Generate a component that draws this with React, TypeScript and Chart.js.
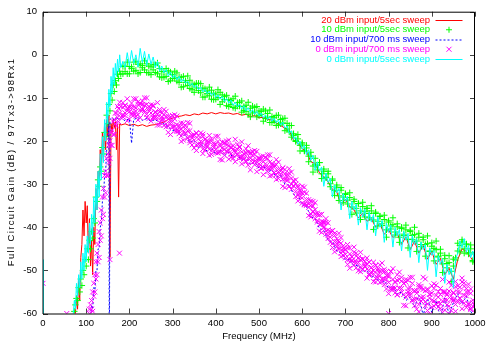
import { useEffect, useRef } from "react";
import { Chart, registerables } from "chart.js";

Chart.register(...registerables);

const FONT = "'Liberation Sans', Arial, Helvetica, sans-serif";

// ---- axis ticks / titles ----
const xTickValues = [0, 100, 200, 300, 400, 500, 600, 700, 800, 900, 1000];
const yTickValues = [10, 0, -10, -20, -30, -40, -50, -60];
const xTitle = "Frequency (MHz)";
const yTitle = "Full Circuit Gain (dB) / 97Tx3->98Rx1";

// ---- series names / colours ----
const seriesNames = [
  "20 dBm input/5sec sweep",
  "10 dBm input/5sec sweep",
  "10 dBm input/700 ms sweep",
  "0 dBm input/700 ms sweep",
  "0 dBm input/5sec sweep",
];
const seriesColors = ["#ff0000", "#00ff00", "#0000ff", "#ff00ff", "#00ffff"];

// ---- shared frequency grids (MHz) ----
const riseFreq = [
  70, 72.5, 75, 77.5, 80, 82.5, 85, 87.5, 90, 92.5,
  95, 97.5, 100, 102.5, 105, 107.5, 110, 112.5, 115, 117.5,
  120, 122.5, 125, 127.5, 130, 132.5, 135, 137.5, 140, 142.5,
  145, 147.5, 150, 152.5, 155, 157.5, 160, 162.5, 165, 167.5,
  170, 172.5, 175, 177.5, 180,
];
const sweepFreq = [
  185, 190, 195, 200, 205, 210, 215, 220, 225, 230,
  235, 240, 245, 250, 255, 260, 265, 270, 275, 280,
  285, 290, 295, 300, 305, 310, 315, 320, 325, 330,
  335, 340, 345, 350, 355, 360, 365, 370, 375, 380,
  385, 390, 395, 400, 405, 410, 415, 420, 425, 430,
  435, 440, 445, 450, 455, 460, 465, 470, 475, 480,
  485, 490, 495, 500, 505, 510, 515, 520, 525, 530,
  535, 540, 545, 550, 555, 560, 565, 570, 575, 580,
  585, 590, 595, 600, 605, 610, 615, 620, 625, 630,
  635, 640, 645, 650, 655, 660, 665, 670, 675, 680,
  685, 690, 695, 700, 705, 710, 715, 720, 725, 730,
  735, 740, 745, 750, 755, 760, 765, 770, 775, 780,
  785, 790, 795, 800, 805, 810, 815, 820, 825, 830,
  835, 840, 845, 850, 855, 860, 865, 870, 875, 880,
  885, 890, 895, 900, 905, 910, 915, 920, 925, 930,
  935, 940, 945, 950, 955, 960, 965, 970, 975, 980,
  985, 990, 995, 1000,
];

// ---- 10 dBm input / 5 sec sweep (green +) ----
const greenRise = [
  -61, -59.5, -58, -56.5, -57, -54, -55, -52, -53.5, -50,
  -51, -47.5, -49, -45, -47.5, -43, -45, -41, -42.5, -38,
  -39, -33, -34, -29, -30.5, -26, -27, -21.5, -23, -18,
  -19, -14, -16, -11.5, -13, -9, -10.5, -7, -8.5, -6,
  -7, -4.5, -5.5, -3.8, -4.5,
];
const greenSweep = [
  -2.7, -3.9, -1.7, -4.4, -2.8, -3.8, -1.5, -4.4, -2.1, -3.0,
  -1.4, -4.1, -2.6, -4.6, -2.3, -4.1, -1.9, -5.1, -3.9, -5.2,
  -3.2, -6.2, -4.0, -5.5, -3.8, -6.1, -5.2, -7.5, -5.0, -6.4,
  -4.9, -7.8, -6.8, -8.7, -6.6, -8.3, -6.7, -9.8, -7.9, -9.0,
  -7.5, -10.3, -8.9, -10.3, -8.1, -11.5, -9.3, -10.4, -9.4, -12.0,
  -10.6, -12.2, -9.6, -11.9, -11.0, -13.3, -12.0, -13.1, -11.0, -14.4,
  -11.9, -13.3, -12.0, -14.1, -13.1, -15.4, -13.0, -14.6, -12.8, -15.7,
  -14.6, -16.4, -14.0, -16.0, -14.8, -17.6, -15.9, -17.9, -16.4, -18.7,
  -19.9, -19.5, -21.0, -20.4, -22.3, -21.6, -23.5, -22.6, -25.8, -24.0,
  -25.6, -25.0, -27.6, -26.5, -28.4, -27.6, -29.9, -28.8, -31.5, -30.2,
  -33.8, -31.4, -33.0, -32.2, -34.6, -33.1, -37.0, -34.0, -35.6, -34.5,
  -38.2, -35.2, -36.4, -35.6, -37.8, -36.2, -40.5, -36.8, -38.6, -37.4,
  -39.6, -38.2, -42.3, -38.8, -40.4, -39.4, -41.8, -39.9, -43.5, -40.3,
  -41.9, -40.6, -44.8, -41.0, -42.8, -41.7, -45.6, -42.3, -44.0, -42.9,
  -46.7, -43.8, -45.6, -44.4, -47.8, -45.2, -46.9, -46.0, -50.5, -47.3,
  -49.4, -48.2, -52.6, -49.0, -47.6, -45.5, -44.2, -43.4, -45.0, -43.9,
  -46.2, -45.0, -48.0, -46.2,
];
const greenSweepB = [
  -4.4, -2.6, -4.4, -2.7, -3.2, -1.7, -3.6, -2.2, -4.1, -2.5,
  -3.5, -2.1, -4.2, -2.8, -3.5, -2.3, -4.4, -3.2, -5.3, -3.9,
  -5.0, -3.7, -5.9, -4.6, -5.4, -4.2, -6.4, -5.2, -7.4, -6.0,
  -7.1, -5.9, -8.1, -6.9, -7.7, -6.6, -8.8, -7.7, -9.8, -8.4,
  -9.5, -8.2, -10.4, -9.1, -9.9, -8.7, -10.9, -9.7, -11.8, -10.4,
  -11.5, -10.2, -12.4, -11.1, -11.9, -10.7, -12.9, -11.7, -13.8, -12.4,
  -13.5, -12.2, -14.4, -13.0, -13.8, -12.6, -14.8, -13.6, -15.7, -14.3,
  -15.4, -14.1, -16.3, -15.0, -15.8, -14.7, -17.2, -16.4, -19.1, -18.3,
  -20.1, -18.5, -22.3, -20.7, -22.3, -21.0, -24.8, -23.5, -27.2, -25.5,
  -26.7, -25.0, -28.7, -27.0, -28.5, -27.0, -30.6, -29.1, -32.6, -30.7,
  -32.7, -30.8, -34.3, -32.4, -33.7, -32.0, -35.3, -33.5, -36.7, -34.5,
  -36.2, -34.2, -37.6, -35.6, -36.8, -35.0, -38.3, -36.5, -39.7, -37.5,
  -39.2, -37.2, -40.6, -38.5, -39.7, -37.8, -41.1, -39.2, -42.3, -40.0,
  -41.6, -39.5, -42.8, -40.7, -41.9, -40.0, -43.2, -41.4, -44.5, -42.3,
  -44.0, -42.0, -45.5, -43.6, -44.9, -43.2, -46.7, -45.1, -48.5, -46.5,
  -48.4, -46.6, -50.2, -47.4, -47.1, -43.7, -45.7, -42.9, -46.0, -43.9,
  -45.9, -44.1, -47.7, -45.9,
];

// ---- 0 dBm input / 5 sec sweep (cyan line) ----
const cyanLeadFreq = [0, 0.3, 60];
const cyanLead = [-47.5, -70, -70];
const cyanRise = [
  -60, -57, -59, -53, -56, -51, -54, -48, -52, -46,
  -50, -44, -48, -42, -46, -39, -44, -37, -42, -33,
  -39, -30, -36, -27, -33, -23, -29, -19, -25, -15,
  -20, -11, -16, -8, -12, -5, -9, -3, -7, -2,
  -5, -1, -4, 0, -3,
];
const cyanSweep = [
  -1.5, -3.0, 0.5, -2.5, 1.0, -2.0, 0.0, -2.8, 1.5, -1.8,
  0.8, -2.5, 0.2, -2.2, -0.5, -3.0, -1.5, -3.8, -2.6, -4.2,
  -3.4, -4.9, -4.0, -5.4, -4.6, -5.8, -5.0, -6.3, -5.6, -6.6,
  -6.1, -7.2, -6.6, -7.6, -7.0, -8.1, -7.5, -8.6, -8.0, -9.0,
  -8.4, -9.4, -8.8, -9.9, -9.3, -10.3, -9.7, -10.8, -10.1, -11.2,
  -10.5, -11.7, -11.0, -12.1, -11.4, -12.6, -11.8, -13.0, -12.3, -13.4,
  -12.7, -13.8, -13.1, -14.2, -13.5, -14.6, -13.9, -15.0, -14.3, -15.4,
  -14.7, -15.8, -15.1, -16.3, -15.6, -17.0, -16.5, -18.2, -17.6, -19.6,
  -19.0, -20.8, -20.0, -21.9, -21.0, -23.2, -22.0, -24.5, -23.3, -26.8,
  -24.8, -27.0, -26.0, -30.5, -27.4, -29.6, -28.6, -33.0, -30.2, -32.0,
  -31.0, -36.0, -32.2, -34.0, -32.8, -38.0, -34.0, -36.0, -34.6, -39.5,
  -35.5, -37.6, -35.8, -40.6, -36.4, -38.8, -37.0, -42.0, -37.6, -40.0,
  -38.4, -43.5, -39.0, -41.2, -39.5, -44.6, -40.0, -42.0, -40.5, -45.5,
  -40.9, -43.0, -41.4, -47.0, -41.9, -44.0, -42.6, -48.2, -43.4, -45.2,
  -44.0, -50.0, -44.8, -46.5, -45.4, -51.5, -46.6, -48.5, -47.3, -53.0,
  -48.6, -51.0, -49.5, -54.0, -47.5, -46.0, -43.2, -44.8, -42.6, -45.8,
  -44.2, -47.0, -45.5, -49.0,
];

// ---- 0 dBm input / 700 ms sweep (magenta x) ----
const magentaRise = [
  null, null, null, null, null, null, null, null, null, null,
  null, null, null, null, -61, -59, -61, -57, -59.5, -53,
  -55, -48, -51, -44, -47, -39, -42, -33, -37, -28,
  -32, -24, -28, -21, -24, -18, -21, -15.5, -18.5, -13.5,
  -16.5, -12, -15.5, -11, -14.5,
];
const magentaRiseB = [
  null, null, null, null, null, null, null, null, null, null,
  null, null, null, null, null, -60, -58, -59, -55, -56,
  -51, -52, -46, -48, -41, -43, -36, -38, -31, -33,
  -27, -28, -23, -25, -20, -21, -17.5, -18.5, -15, -16,
  -13.5, -14.5, -12.5, -13.5, -12,
];
const magentaSweepA = [
  -11.1, -13.5, -10.2, -14.9, -12.2, -14.0, -10.2, -15.1, -11.3, -12.7,
  -10.0, -14.5, -12.0, -15.4, -11.7, -14.6, -11.1, -16.3, -14.4, -16.4,
  -13.1, -18.0, -14.4, -16.8, -13.9, -17.8, -16.4, -20.1, -15.9, -18.2,
  -15.7, -20.4, -18.7, -21.6, -18.1, -20.8, -18.1, -22.9, -19.6, -21.3,
  -18.7, -23.1, -20.6, -22.7, -18.9, -24.3, -20.3, -21.9, -20.0, -24.2,
  -21.6, -24.0, -19.6, -23.2, -21.5, -25.3, -22.9, -24.7, -21.1, -26.7,
  -22.4, -24.7, -22.4, -25.9, -24.1, -27.8, -23.8, -26.2, -23.2, -28.0,
  -26.1, -28.9, -24.9, -28.2, -26.3, -30.8, -27.7, -30.5, -27.2, -30.4,
  -29.0, -33.9, -31.4, -34.4, -30.7, -34.8, -33.6, -37.6, -34.0, -38.0,
  -37.1, -40.9, -37.0, -39.9, -38.0, -42.6, -40.9, -44.7, -41.4, -44.5,
  -41.4, -46.8, -44.3, -47.1, -44.0, -49.5, -46.8, -48.0, -46.0, -50.1,
  -45.8, -49.7, -48.0, -51.8, -48.1, -50.3, -48.1, -52.7, -50.1, -52.8,
  -48.3, -52.0, -50.3, -55.4, -50.2, -54.4, -52.6, -55.7, -50.4, -55.1,
  -53.0, -58.2, -52.3, -55.2, -51.6, -58.2, -54.7, -59.6, -53.7, -56.7,
  -52.0, -59.3, -55.5, -58.5, -53.1, -60.8, -54.9, -57.7, -52.1, -59.2,
  -55.7, -60.1, -53.5, -56.7, -52.6, -57.4, -53.9, -58.9, -52.9, -58.6,
  -53.2, -59.1, -56.9, -62.8,
];
const magentaSweepB = [
  -14.4, -11.7, -15.3, -12.2, -13.5, -10.2, -14.2, -11.5, -14.6, -10.7,
  -12.9, -10.0, -14.8, -11.6, -14.4, -13.4, -16.3, -13.2, -15.2, -12.7,
  -16.7, -14.8, -18.5, -14.1, -16.6, -14.2, -18.3, -17.2, -19.8, -16.5,
  -19.2, -15.9, -20.9, -18.6, -22.2, -18.8, -20.7, -18.4, -22.1, -20.4,
  -23.3, -19.5, -21.5, -18.9, -22.7, -20.8, -24.4, -20.5, -22.5, -19.8,
  -23.8, -21.9, -24.8, -20.7, -23.6, -20.2, -24.2, -22.8, -25.6, -22.6,
  -24.4, -22.2, -27.1, -23.9, -26.4, -23.5, -26.1, -23.2, -28.1, -25.5,
  -27.4, -24.3, -28.7, -27.0, -30.5, -26.6, -28.9, -26.4, -31.2, -29.2,
  -32.9, -30.7, -32.9, -30.5, -34.8, -32.1, -37.3, -35.0, -36.3, -34.3,
  -38.8, -37.1, -41.2, -38.8, -40.9, -39.0, -43.5, -40.8, -45.7, -43.3,
  -44.7, -42.4, -46.5, -45.2, -48.6, -44.8, -47.8, -44.6, -49.4, -47.1,
  -50.3, -47.3, -49.0, -47.1, -51.1, -49.3, -52.6, -48.8, -51.7, -48.7,
  -52.0, -50.3, -54.3, -51.5, -54.0, -49.6, -55.2, -52.3, -54.1, -51.6,
  -58.1, -52.1, -55.6, -51.6, -56.8, -54.8, -59.0, -53.8, -57.1, -51.6,
  -58.2, -54.6, -60.2, -53.6, -57.1, -53.4, -58.5, -55.6, -59.8, -54.9,
  -56.9, -52.7, -59.3, -55.1, -59.5, -53.6, -56.5, -51.8, -57.6, -55.0,
  -57.9, -54.3, -61.0, -58.2,
];
const magentaSweepC = [
  -12.2, -14.1, -12.5, -13.2, -11.2, -13.4, -12.3, -13.9, -11.4, -12.6,
  -11.7, -13.8, -12.5, -13.5, -11.9, -14.5, -13.8, -15.7, -13.5, -15.0,
  -14.3, -16.6, -15.4, -16.5, -14.9, -17.5, -16.9, -18.8, -16.7, -18.2,
  -17.6, -19.9, -18.7, -19.8, -18.2, -20.8, -20.1, -21.9, -19.6, -21.0,
  -20.2, -22.3, -21.0, -21.9, -20.1, -22.5, -21.6, -23.3, -20.9, -22.2,
  -21.3, -23.4, -22.1, -23.0, -21.3, -23.8, -23.0, -24.8, -22.6, -24.0,
  -23.3, -25.5, -24.3, -25.3, -23.6, -26.1, -25.3, -27.1, -24.9, -26.3,
  -25.6, -27.8, -26.6, -27.7, -26.2, -28.9, -28.4, -30.5, -28.6, -30.4,
  -30.0, -32.6, -31.7, -33.2, -31.9, -34.9, -34.6, -36.9, -35.1, -37.0,
  -36.7, -39.4, -38.6, -40.1, -38.9, -41.9, -41.5, -43.8, -41.9, -43.8,
  -43.4, -46.0, -45.0, -46.3, -44.8, -47.5, -46.9, -48.8, -46.7, -48.2,
  -47.5, -49.8, -48.6, -49.7, -48.1, -50.7, -50.0, -51.9, -49.7, -51.2,
  -50.0, -53.3, -51.2, -52.8, -50.3, -54.1, -52.8, -55.6, -52.1, -54.2,
  -53.0, -56.2, -54.2, -55.7, -53.0, -56.7, -55.3, -57.9, -54.2, -56.1,
  -54.7, -57.8, -55.6, -57.0, -54.2, -57.8, -56.2, -58.8, -55.0, -56.9,
  -55.4, -58.3, -55.9, -57.0, -53.8, -57.0, -55.1, -57.3, -53.7, -55.9,
  -55.0, -58.8, -57.5, -59.8,
];
const magentaSweepD = [
  -13.9, -11.8, -13.0, -12.1, -13.9, -12.1, -13.1, -10.9, -12.8, -11.5,
  -13.4, -11.5, -13.0, -12.4, -14.6, -13.2, -14.6, -12.7, -14.9, -13.9,
  -16.0, -14.3, -15.9, -15.4, -17.6, -16.2, -17.7, -15.8, -18.1, -17.1,
  -19.3, -17.6, -19.2, -18.7, -20.9, -19.5, -20.9, -18.9, -21.0, -19.9,
  -21.9, -20.0, -21.5, -20.8, -22.8, -21.2, -22.4, -20.3, -22.3, -21.1,
  -23.0, -21.1, -22.6, -21.9, -24.0, -22.5, -23.8, -21.8, -24.0, -22.9,
  -25.0, -23.2, -24.8, -24.2, -26.3, -24.8, -26.1, -24.1, -26.3, -25.2,
  -27.3, -25.5, -27.1, -26.6, -28.9, -27.6, -29.2, -27.5, -30.0, -29.3,
  -31.7, -30.3, -32.2, -32.1, -34.6, -33.6, -35.4, -33.9, -36.5, -35.9,
  -38.4, -37.1, -39.1, -39.0, -41.6, -40.6, -42.3, -40.8, -43.3, -42.7,
  -45.1, -43.7, -45.5, -45.2, -47.5, -46.2, -47.7, -45.8, -48.1, -47.1,
  -49.2, -47.5, -49.1, -48.6, -50.8, -49.4, -50.8, -48.9, -51.1, -50.1,
  -52.6, -49.8, -52.0, -51.1, -54.4, -52.1, -54.1, -51.0, -54.2, -52.5,
  -55.6, -52.7, -55.0, -54.0, -57.1, -54.7, -56.6, -53.3, -56.3, -54.4,
  -57.3, -54.3, -56.4, -55.3, -58.3, -55.8, -57.5, -54.2, -57.1, -55.2,
  -58.0, -54.8, -56.7, -55.3, -57.9, -55.0, -56.4, -52.7, -55.8, -54.2,
  -57.6, -55.3, -58.3, -58.1,
];
const magentaOutlierFreq = [0, 55, 155, 177, 800];
const magentaOutlier = [-53, -60, -47.5, -46, -60];

// ---- 20 dBm input / 5 sec sweep (red line) ----
const redFreq = [
  72, 75, 77.5, 80, 82.5, 85, 87.5, 90, 92.5, 95,
  97.5, 100, 102.5, 105, 107.5, 110, 112.5, 115, 117.5, 120,
  122.5, 125, 127.5, 130, 132.5, 135, 137.5, 140, 142.5, 145,
  147.5, 150, 152.5, 155, 157.5, 160, 162.5, 165, 167.5, 170,
  172.5, 175, 177.5, 180,
  190, 200, 210, 220, 230, 240, 250, 260, 270, 280,
  290, 300, 310, 320, 330, 340, 350, 360, 370, 380,
  390, 400, 410, 420, 430, 440, 450, 460, 470, 480,
  490, 500, 510, 520, 530, 540, 550, 560, 570, 580,
  590, 600, 610, 620, 630, 640, 650, 660, 670, 680,
  690, 700, 710, 720, 730, 740, 750, 760, 770, 780,
  790, 800, 810, 820, 830, 840, 850, 860, 870, 880,
  890, 900, 910, 920, 930, 940, 950, 960, 970, 980,
  990, 1000,
];
const redGain = [
  -65, -60, -56, -59, -52, -57, -47, -44, -36, -42,
  -34, -39, -35, -46, -38, -49, -43, -51, -40, -44,
  -31, -36, -27, -31, -22, -28, -18, -24, -16, -22,
  -15, -19, -14, -47, -16, -18, -15, -17, -15.5, -22,
  -16, -33, -16, -16.3,
  -16.0, -16.4, -16.1, -16.5, -16.2, -16.6, -16.3, -16.2, -15.9, -15.6,
  -15.0, -14.7, -14.3, -14.2, -13.9, -14.1, -13.7, -13.9, -13.5, -13.7,
  -13.4, -13.7, -13.4, -13.6, -13.5, -13.8, -13.6, -14.0, -13.8, -14.3,
  -14.1, -14.6, -14.5, -15.0, -15.1, -15.8, -16.4, -17.0, -17.6, -19.8,
  -20.5, -21.8, -22.4, -24.8, -25.2, -27.4, -28.2, -29.5, -31.2, -31.8,
  -34.8, -33.5, -35.2, -36.0, -37.8, -36.8, -38.6, -38.0, -40.0, -39.2,
  -41.6, -40.6, -42.4, -41.4, -44.0, -42.2, -45.2, -43.2, -46.0, -44.2,
  -47.4, -45.6, -48.6, -47.2, -51.0, -49.5, -52.0, -47.5, -45.0, -45.6,
  -47.0, -48.5,
];

// ---- 10 dBm input / 700 ms sweep (blue dotted) ----
const blueFreq = [
  105, 110, 112.5, 115, 117.5, 120, 122.5, 125, 127.5, 130,
  132.5, 135, 137.5, 140, 142.5, 145, 147.5, 150, 152.5, 153.5,
  155, 160, 165, 170, 175, 180, 190, 200, 205, 210,
  220, 230, 240, 250, 260, 270, 280, 290, 300, 310,
  320, 330, 340, 350, 360, 370, 380, 390, 400, 410,
  420, 430, 440, 450, 460, 470, 480, 490, 500, 510,
  520, 530, 540, 550, 560, 570, 580, 590, 600, 610,
  620, 630, 640, 650, 660, 670, 680, 690, 700, 710,
  720, 730, 740, 750, 760, 770, 780, 790, 800, 810,
  820, 830, 840, 850, 860, 870, 880, 890, 900, 910,
  920, 930, 940, 950, 960, 970, 980, 990, 1000,
];
const blueGain = [
  -66, -61, -58, -59, -54, -55, -50, -50, -45, -45,
  -40, -39, -34, -33, -28, -27, -22, -21, -16, -80,
  -15, -14.6, -15.2, -14.4, -15.0, -14.6, -15.3, -14.8, -20.5, -15.0,
  -14.6, -15.2, -14.8, -15.4, -15.0, -15.8, -16.0, -16.8, -17.6, -17.2,
  -18.9, -18.5, -20.3, -19.8, -21.6, -20.9, -22.4, -21.6, -23.0, -22.1,
  -23.4, -22.6, -23.8, -23.1, -24.5, -23.8, -25.4, -24.9, -26.3, -25.8,
  -27.2, -26.7, -28.4, -28.0, -30.0, -30.2, -32.4, -32.6, -34.8, -35.2,
  -37.6, -37.9, -40.3, -40.8, -43.0, -43.4, -45.5, -46.0, -47.6, -47.5,
  -49.0, -48.8, -50.4, -50.0, -51.6, -51.2, -53.0, -52.4, -54.2, -53.6,
  -55.5, -55.0, -57.0, -56.2, -58.5, -55.8, -60.5, -56.5, -59.8, -57.0,
  -61.0, -56.4, -60.2, -57.5, -55.4, -57.8, -56.0, -59.5, -61.0,
];

type Pt = { x: number; y: number | null };
function pts(fs: number[], vs: (number | null)[]): Pt[] {
  const out: Pt[] = [];
  for (let i = 0; i < fs.length && i < vs.length; i++) out.push({ x: fs[i], y: vs[i] });
  return out;
}

function drawSpacedVertical(ctx: CanvasRenderingContext2D, text: string, cx: number, cy: number, spacing: number) {
  const chars = Array.from(text);
  const widths = chars.map((c) => ctx.measureText(c).width);
  const total = widths.reduce((s, w) => s + w, 0) + spacing * (chars.length - 1);
  ctx.save();
  ctx.translate(cx, cy);
  ctx.rotate(-Math.PI / 2);
  ctx.textAlign = "left";
  ctx.textBaseline = "middle";
  let x = -total / 2;
  chars.forEach((c, i) => {
    ctx.fillText(c, x, 0);
    x += widths[i] + spacing;
  });
  ctx.restore();
}

const framePlugin = {
  id: "gnuFrame",
  beforeDatasetsDraw(chart: any) {
    const { ctx, chartArea: a, scales } = chart;
    ctx.save();
    ctx.strokeStyle = "#444";
    ctx.lineWidth = 1;
    ctx.beginPath();
    const L = 5;
    for (const v of xTickValues) {
      const x = Math.round(scales.x.getPixelForValue(v)) + 0.5;
      ctx.moveTo(x, a.bottom);
      ctx.lineTo(x, a.bottom - L);
      ctx.moveTo(x, a.top);
      ctx.lineTo(x, a.top + L);
    }
    for (const v of yTickValues) {
      const y = Math.round(scales.y.getPixelForValue(v)) + 0.5;
      ctx.moveTo(a.left, y);
      ctx.lineTo(a.left + L, y);
      ctx.moveTo(a.right, y);
      ctx.lineTo(a.right - L, y);
    }
    ctx.stroke();
    ctx.restore();
  },
  afterDatasetsDraw(chart: any) {
    const { ctx, chartArea: a } = chart;
    ctx.save();
    ctx.strokeStyle = "#000";
    ctx.lineWidth = 1;
    ctx.beginPath();
    ctx.moveTo(a.left, a.top + 0.5);
    ctx.lineTo(a.right - 0.5, a.top + 0.5);
    ctx.lineTo(a.right - 0.5, a.bottom + 0.5);
    ctx.lineTo(a.left, a.bottom + 0.5);
    ctx.closePath();
    ctx.stroke();

    // y axis title (gnuplot rotated text is loosely spaced)
    ctx.font = `9.5px ${FONT}`;
    ctx.fillStyle = "#000";
    drawSpacedVertical(ctx, yTitle, 11.7, (a.top + a.bottom) / 2, 1.35);

    // key (gnuplot style: right-aligned text, sample to the right)
    ctx.font = `9.5px ${FONT}`;
    ctx.textAlign = "right";
    ctx.textBaseline = "middle";
    const textRight = 430;
    const s0 = 435.5;
    const s1 = 462.5;
    const sc = 449;
    seriesNames.forEach((name, i) => {
      const y = 20 + i * 9.75;
      ctx.fillStyle = seriesColors[i];
      ctx.fillText(name, textRight, y);
      ctx.strokeStyle = seriesColors[i];
      ctx.lineWidth = 1;
      ctx.beginPath();
      if (i === 1) {
        ctx.moveTo(sc - 3, y);
        ctx.lineTo(sc + 3, y);
        ctx.moveTo(sc, y - 3);
        ctx.lineTo(sc, y + 3);
      } else if (i === 3) {
        ctx.moveTo(sc - 2.5, y - 2.5);
        ctx.lineTo(sc + 2.5, y + 2.5);
        ctx.moveTo(sc - 2.5, y + 2.5);
        ctx.lineTo(sc + 2.5, y - 2.5);
      } else {
        ctx.setLineDash(i === 2 ? [2, 2] : []);
        ctx.moveTo(s0, y + 0.5);
        ctx.lineTo(s1, y + 0.5);
      }
      ctx.stroke();
      ctx.setLineDash([]);
    });
    ctx.restore();
  },
};

export default function App() {
  const ref = useRef<HTMLCanvasElement | null>(null);
  useEffect(() => {
    if (!ref.current) return;
    const font = { family: FONT, size: 9.5 };
    const chart = new Chart(ref.current, {
      type: "line",
      data: {
        datasets: [
          {
            label: seriesNames[0],
            data: pts(redFreq, redGain),
            borderColor: seriesColors[0],
            borderWidth: 1,
            pointRadius: 0,
            order: 4,
          },
          {
            label: seriesNames[1],
            data: [
              ...pts(riseFreq, greenRise),
              ...pts(sweepFreq, greenSweep),
              ...pts(sweepFreq, greenSweepB),
            ],
            showLine: false,
            pointStyle: "cross",
            pointRadius: 3.2,
            pointBorderWidth: 1,
            borderColor: seriesColors[1],
            pointBorderColor: seriesColors[1],
            order: 3,
          },
          {
            label: seriesNames[2],
            data: pts(blueFreq, blueGain),
            borderColor: seriesColors[2],
            borderWidth: 1,
            borderDash: [2, 2],
            pointRadius: 0,
            order: 2,
          },
          {
            label: seriesNames[3],
            data: [
              ...pts(magentaOutlierFreq, magentaOutlier),
              ...pts(riseFreq, magentaRise),
              ...pts(riseFreq, magentaRiseB),
              ...pts(sweepFreq, magentaSweepA),
              ...pts(sweepFreq, magentaSweepB),
              ...pts(sweepFreq, magentaSweepC),
              ...pts(sweepFreq, magentaSweepD),
            ],
            showLine: false,
            pointStyle: "crossRot",
            pointRadius: 3.5,
            pointBorderWidth: 1,
            borderColor: seriesColors[3],
            pointBorderColor: seriesColors[3],
            order: 1,
          },
          {
            label: seriesNames[4],
            data: [
              ...pts(cyanLeadFreq, cyanLead),
              ...pts(riseFreq, cyanRise),
              ...pts(sweepFreq, cyanSweep),
            ],
            borderColor: seriesColors[4],
            borderWidth: 1,
            pointRadius: 0,
            order: 0,
          },
        ] as any,
      },
      options: {
        responsive: false,
        animation: false,
        events: [],
        layout: { padding: { top: 11, right: 16, left: 0, bottom: 0 } },
        elements: { line: { tension: 0 } },
        plugins: { legend: { display: false }, tooltip: { enabled: false } },
        scales: {
          x: {
            type: "linear",
            min: 0,
            max: 1000,
            afterBuildTicks: (s: any) => {
              s.ticks = xTickValues.map((v) => ({ value: v }));
            },
            afterFit: (s: any) => {
              s.height = 29.5;
            },
            grid: { display: false, drawTicks: false },
            border: { display: false },
            ticks: {
              font,
              color: "#000",
              padding: 4,
              maxRotation: 0,
              autoSkip: false,
              callback: (v: any) => String(v),
            },
            title: {
              display: true,
              text: xTitle,
              font,
              color: "#000",
              padding: { top: 0, bottom: 1 },
            },
          },
          y: {
            type: "linear",
            min: -60,
            max: 10,
            afterBuildTicks: (s: any) => {
              s.ticks = yTickValues.map((v) => ({ value: v }));
            },
            afterFit: (s: any) => {
              s.width = 43;
            },
            grid: { display: false, drawTicks: false },
            border: { display: false },
            ticks: { font, color: "#000", padding: 6, autoSkip: false, callback: (v: any) => String(v) },
            title: { display: false },
          },
        },
      } as any,
      plugins: [framePlugin],
    });
    return () => chart.destroy();
  }, []);
  return (
    <div style={{ position: "fixed", left: 0, top: 0, width: 491, height: 343, background: "#fff" }}>
      <canvas ref={ref} width={491} height={343} style={{ display: "block" }} />
    </div>
  );
}
